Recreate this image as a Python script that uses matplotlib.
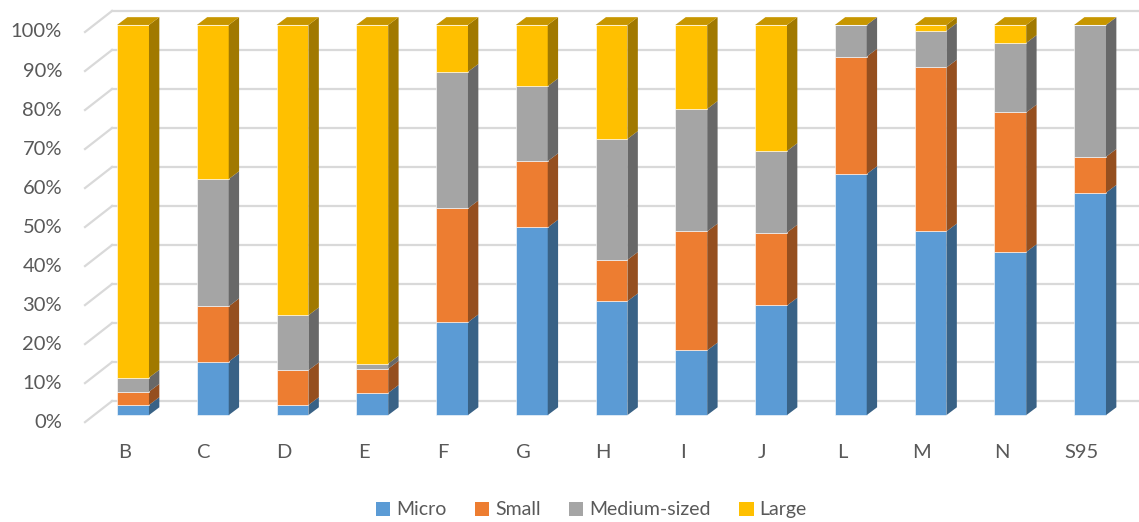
import numpy as np
import matplotlib.pyplot as plt
from matplotlib.patches import Polygon, Patch
import matplotlib.colors as mcolors

categories = ['B', 'C', 'D', 'E', 'F', 'G', 'H', 'I', 'J', 'L', 'M', 'N', 'S95']
micro = [2.6, 13.7, 2.6, 5.7, 23.8, 48.1, 29.2, 16.6, 28.1, 61.8, 47.1, 41.8, 57.0]
small = [3.4, 14.2, 8.9, 6.2, 29.2, 17.0, 10.6, 30.5, 18.7, 30.1, 42.0, 35.8, 9.2]
medium = [3.6, 32.6, 14.1, 1.3, 35.0, 19.2, 31.0, 31.4, 20.9, 8.1, 9.4, 17.8, 33.8]
large = [90.4, 39.5, 74.4, 86.8, 12.0, 15.7, 29.2, 21.5, 32.3, 0.0, 1.5, 4.6, 0.0]
series_names = ['Micro', 'Small', 'Medium-sized', 'Large']
colors = ['#5B9BD5', '#ED7D31', '#A5A5A5', '#FFC000']
yticks = [0, 10, 20, 30, 40, 50, 60, 70, 80, 90, 100]

plt.rcParams['font.family'] = ['Lato', 'DejaVu Sans']
text_color = '#595959'

def shade(c, f):
    r, g, b = mcolors.to_rgb(c)
    return (r * f, g * f, b * f)

fig = plt.figure(figsize=(11.39, 5.22), dpi=100)
ax = fig.add_axes([0, 0, 1, 1])
ax.set_xlim(-1.668, 12.614)
ax.set_ylim(-27.4, 106.4)
ax.axis('off')

# fake 3d depth (in data units)
dx, dy = 0.13, 2.0
wall_dy, front_dy = 3.6, -1.8
x_front, x_wall = -0.602, -0.263
w = 0.40

# back wall gridlines + diagonal floor/wall lines
for v in yticks:
    ax.plot([x_wall, 12.614], [v + wall_dy, v + wall_dy], color='#d9d9d9', lw=1.6, zorder=0)
    ax.plot([x_front, x_wall], [v + front_dy, v + wall_dy], color='#d9d9d9', lw=1.6, zorder=0)
    ax.text(-0.89, v + front_dy, f'{v}%', ha='right', va='center', fontsize=14.5, color=text_color)

data = np.array([micro, small, medium, large])
x = np.arange(len(categories))
for i in x:
    bottom = 0.0
    for k in range(4):
        h = data[k, i]
        ax.bar(i, h, bottom=bottom, width=w, color=colors[k], edgecolor='white', linewidth=0.4, zorder=2)
        side = Polygon([(i + w / 2, bottom), (i + w / 2 + dx, bottom + dy),
                        (i + w / 2 + dx, bottom + h + dy), (i + w / 2, bottom + h)],
                       closed=True, facecolor=shade(colors[k], 0.63), edgecolor='none', zorder=2)
        ax.add_patch(side)
        bottom += h
    top = Polygon([(i - w / 2, bottom), (i - w / 2 + dx, bottom + dy),
                   (i + w / 2 + dx, bottom + dy), (i + w / 2, bottom)],
                  closed=True, facecolor=shade(colors[3], 0.78), edgecolor='none', zorder=2)
    ax.add_patch(top)
    ax.text(i - 0.11, -9.7, categories[i], ha='center', va='center', fontsize=14.5, color=text_color)

handles = [Patch(facecolor=c, edgecolor='none') for c in colors]
fig.legend(handles, series_names, loc='center', bbox_to_anchor=(0.519, 0.023), ncol=4, frameon=False,
           fontsize=14, labelcolor=text_color, handlelength=0.75, handleheight=0.75,
           handletextpad=0.3, columnspacing=1.45)

plt.savefig('out.png', dpi=100)
